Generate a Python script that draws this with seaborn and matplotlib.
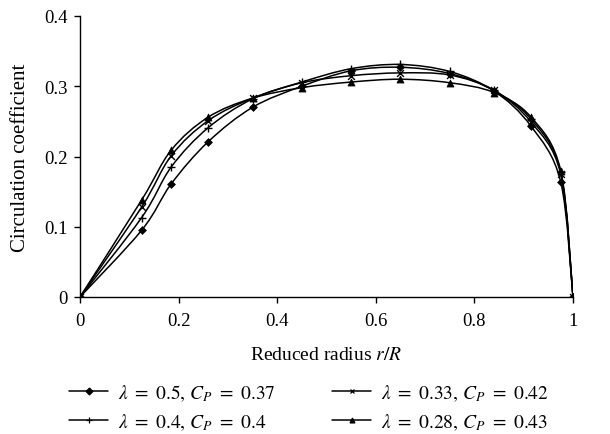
import numpy as np
import pandas as pd
import matplotlib
matplotlib.use("Agg")
import matplotlib.pyplot as plt
import seaborn as sns
from matplotlib.path import Path
from matplotlib.patches import PathPatch
from matplotlib.lines import Line2D

# ---- data ----
r_over_R = [0, 0.125, 0.185, 0.26, 0.35, 0.45, 0.55, 0.65, 0.75, 0.84, 0.915, 0.975, 1.0]
gamma_l050 = [0, 0.095, 0.161, 0.221, 0.270, 0.300, 0.322, 0.327, 0.318, 0.293, 0.243, 0.164, 0]
gamma_l040 = [0, 0.113, 0.185, 0.241, 0.282, 0.306, 0.325, 0.331, 0.321, 0.294, 0.253, 0.178, 0]
gamma_l033 = [0, 0.128, 0.201, 0.251, 0.283, 0.305, 0.315, 0.319, 0.316, 0.294, 0.249, 0.175, 0]
gamma_l028 = [0, 0.138, 0.209, 0.256, 0.283, 0.298, 0.306, 0.310, 0.305, 0.291, 0.256, 0.180, 0]
labels = [r"$\lambda\ =\ 0.5,\,C_P\ =\ 0.37$",
          r"$\lambda\ =\ 0.4,\,C_P\ =\ 0.4$",
          r"$\lambda\ =\ 0.33,\,C_P\ =\ 0.42$",
          r"$\lambda\ =\ 0.28,\,C_P\ =\ 0.43$"]
series = [gamma_l050, gamma_l040, gamma_l033, gamma_l028]
markers = ["D", "+", "x", "^"]
msizes = [16, 36, 24, 26]

sns.set_theme(style="ticks")
plt.rcParams["font.family"] = ["Liberation Serif", "DejaVu Serif"]
plt.rcParams["mathtext.fontset"] = "stix"

fig = plt.figure(figsize=(6.1, 4.35), dpi=100)
ax = fig.add_axes([80 / 610, 1 - 298 / 435, 493 / 610, (298 - 17) / 435])


def smooth_path(xs, ys):
    pts = np.column_stack([xs, ys]).astype(float)
    n = len(pts)
    verts = [pts[0]]
    codes = [Path.MOVETO]
    for i in range(n - 1):
        p0 = pts[i - 1] if i > 0 else pts[i]
        p1 = pts[i]
        p2 = pts[i + 1]
        p3 = pts[i + 2] if i + 2 < n else pts[i + 1]
        c1 = p1 + (p2 - p0) / 6.0
        c2 = p2 - (p3 - p1) / 6.0
        verts += [c1, c2, p2]
        codes += [Path.CURVE4] * 3
    return Path(verts, codes)


rows = []
for lab, ys in zip(labels, series):
    for x, y in zip(r_over_R, ys):
        rows.append({"r": x, "g": y, "series": lab})
df = pd.DataFrame(rows)

handles = []
for lab, ys, m, s in zip(labels, series, markers, msizes):
    patch = PathPatch(smooth_path(r_over_R, ys), facecolor="none", edgecolor="black",
                      lw=1.1, transform=ax.transData, zorder=2)
    ax.add_patch(patch)
    sub = df[df["series"] == lab]
    if m in ("+", "x"):
        sns.scatterplot(data=sub, x="r", y="g", marker=m, s=s, color="black",
                        linewidth=1.0, ax=ax, zorder=3, legend=False)
    else:
        sns.scatterplot(data=sub, x="r", y="g", marker=m, s=s, color="black",
                        edgecolor="black", linewidth=0.5, ax=ax, zorder=3, legend=False)
    handles.append(Line2D([0], [0], color="black", lw=1.1, marker=m,
                          markersize=3.5 if m != "+" else 5, markeredgewidth=0.9))

ax.set_xlim(0, 1)
ax.set_ylim(0, 0.4)
ax.set_xticks([0, 0.2, 0.4, 0.6, 0.8, 1])
ax.set_xticklabels(["0", "0.2", "0.4", "0.6", "0.8", "1"])
ax.set_yticks([0, 0.1, 0.2, 0.3, 0.4])
ax.set_yticklabels(["0", "0.1", "0.2", "0.3", "0.4"])
ax.tick_params(axis="both", labelsize=13.5, length=4, width=1, color="black",
               labelcolor="black", direction="out")
ax.tick_params(axis="x", pad=7)
ax.tick_params(axis="y", pad=5)
for sp in ["top", "right"]:
    ax.spines[sp].set_visible(False)
for sp in ["left", "bottom"]:
    ax.spines[sp].set_color("black")
    ax.spines[sp].set_linewidth(1.0)
ax.set_xlabel(r"Reduced radius $r/R$", fontsize=14, color="black", labelpad=12)
ax.set_ylabel("Circulation coefficient", fontsize=15, color="black", labelpad=10)

leg = fig.legend(handles, labels, loc="center", bbox_to_anchor=(309 / 610, 1 - 408 / 435),
                 ncol=2, frameon=False, fontsize=14, handlelength=2.0,
                 columnspacing=2.9, labelspacing=0.45, handletextpad=0.5,
                 borderaxespad=0, borderpad=0)
for t in leg.get_texts():
    t.set_color("black")

fig.savefig("out.png", dpi=100)
